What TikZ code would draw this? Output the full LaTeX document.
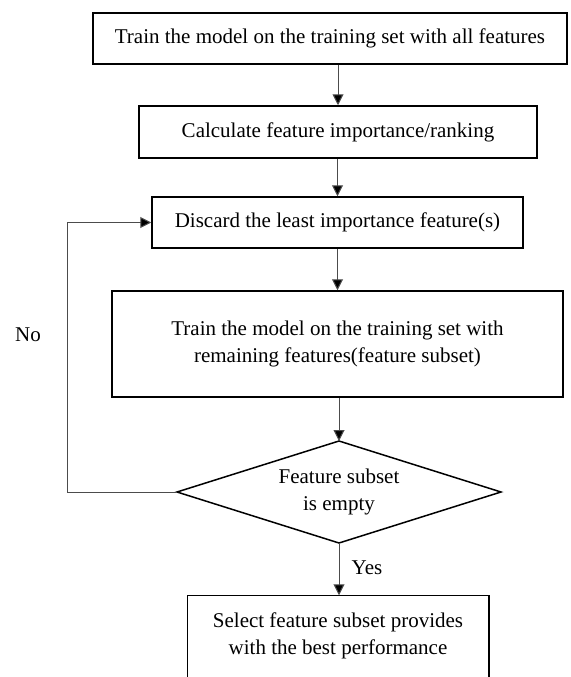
\documentclass[tikz,border=0pt]{standalone}
\usepackage{fontspec}
\setmainfont{Liberation Serif}
\usetikzlibrary{arrows.meta}
\begin{document}
\begin{tikzpicture}[x=1pt,y=-1pt,
  box/.style={draw=black,line width=1.5pt,inner sep=0pt,align=center,font=\fontsize{21}{27}\selectfont},
  conn/.style={draw=black!70,line width=1pt,-{Triangle[length=11pt,width=11pt,fill=black]}},
  lbl/.style={font=\fontsize{21}{27}\selectfont}]
\useasboundingbox (0,0) rectangle (570,677);
\node[box,minimum width=474pt,minimum height=51pt] (b1) at (330,38.5) {Train the model on the training set with all features};
\node[box,minimum width=398pt,minimum height=52pt] (b2) at (338,132) {Calculate feature importance/ranking};
\node[box,minimum width=371pt,minimum height=51pt] (b3) at (337.5,222.5) {Discard the least importance feature(s)};
\node[box,minimum width=451pt,minimum height=106pt] (b4) at (337.5,344) {Train the model on the training set with\\remaining features(feature subset)};
\node[box,draw=none] (d) at (339,492) {Feature subset\\is empty};
\coordinate (dN) at (339,441);
\coordinate (dS) at (339,543);
\coordinate (dW) at (177,492);
\coordinate (dE) at (501,492);
\draw[line width=1.5pt,line join=miter] (dN) -- (dE) -- (dS) -- (dW) -- cycle;
\node[box,draw=none,minimum width=300pt,minimum height=80pt] (b5) at (338,636) {Select feature subset provides\\with the best performance};
\draw[line width=1.5pt] (b5.west |- 0,680) -- (b5.north west) -- (b5.north east) -- (b5.east |- 0,680);
\coordinate (lp) at (67,492);
\draw[conn] (b1.south -| b2.north) -- (b2.north);
\draw[conn] (b2.south -| b3.north) -- (b3.north);
\draw[conn] (b3.south -| b4.north) -- (b4.north);
\draw[conn] (b4.south -| dN) -- (dN);
\draw[conn] (dS) -- (dS |- b5.north);
\draw[conn] (dW) -- (lp) |- (b3.west);
\node[lbl] (no) at (28,335) {No};
\node[lbl] (yes) at (367,568) {Yes};
\end{tikzpicture}
\end{document}
